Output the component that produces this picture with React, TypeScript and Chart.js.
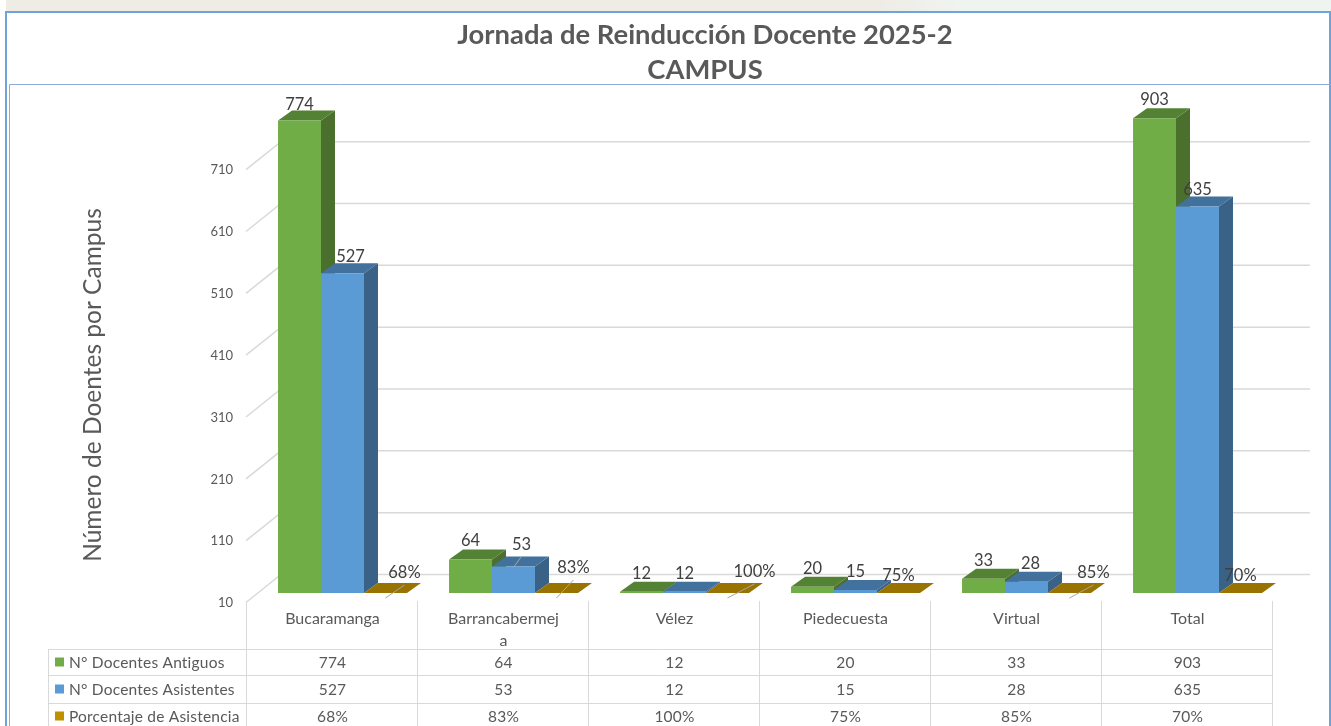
import React, { useEffect, useRef } from "react";
import { Chart, registerables } from "chart.js";

Chart.register(...registerables);

const chartTitle = ["Jornada de Reinducción Docente 2025-2", "CAMPUS"];
const yAxisTitle = "Número de Doentes por Campus";
const categories: (string | string[])[] = ["Bucaramanga", ["Barrancabermej", "a"], "Vélez", "Piedecuesta", "Virtual", "Total"];
const antiguos = [774, 64, 12, 20, 33, 903];
const asistentes = [527, 53, 12, 15, 28, 635];
const porcentaje = [0.68, 0.83, 1, 0.75, 0.85, 0.7];
const yTicks = [10, 110, 210, 310, 410, 510, 610, 710];
const seriesNames = ["N° Docentes Antiguos", "N° Docentes Asistentes", "Porcentaje de Asistencia"];

const FONT = "Lato, Carlito, 'Open Sans', sans-serif";
const TEXT = "#595959";
const LABEL = "#404040";
const LINE = "#d9d9d9";
const DEPTH_X = 14;
const DEPTH_Y = 10;
const COL_SHIFT = 10;

const faces = [
  { front: "#70AD47", side: "#4B6F2C", top: "#548235", swatch: "#70AD47" },
  { front: "#5B9BD5", side: "#3A6287", top: "#41719C", swatch: "#5B9BD5" },
  { front: "#BF9000", side: "#7F6000", top: "#997300", swatch: "#BF9000" },
];

// label nudges relative to the bar's top centre: [dx, gap above top]
const nudges: number[][][] = [
  [[0, 16], [0, 19], [0, 18], [0, 18], [0, 18], [0, 18]],
  [[8, 17], [8, 22], [0, 18], [0, 18], [4, 18], [0, 17]],
  [[19, 20], [17, 25], [27, 21], [0, 17], [24, 20], [0, 17]],
];

const pct = (v: number) => `${Math.round(v * 100)}%`;

const decorPlugin = {
  id: "decor",
  beforeDraw(chart: any) {
    const { ctx, width, height } = chart;
    ctx.save();
    ctx.fillStyle = "#ffffff";
    ctx.fillRect(6, 11, width - 6, height - 11);
    ctx.strokeStyle = "#6FA3DC";
    ctx.lineWidth = 2;
    ctx.beginPath();
    ctx.moveTo(6, height);
    ctx.lineTo(6, 12);
    ctx.lineTo(width - 1, 12);
    ctx.lineTo(width - 1, height);
    ctx.stroke();
    ctx.strokeStyle = "#8EA9DB";
    ctx.lineWidth = 1;
    ctx.beginPath();
    ctx.moveTo(9.5, height);
    ctx.lineTo(9.5, 84.5);
    ctx.lineTo(width - 1, 84.5);
    ctx.stroke();
    ctx.restore();
  },
  beforeDatasetsDraw(chart: any) {
    const { ctx, chartArea, scales } = chart;
    const y = scales.y;
    ctx.save();
    // back wall gridlines, walked from the axis ticks
    ctx.strokeStyle = LINE;
    ctx.lineWidth = 1.5;
    yTicks.forEach((t) => {
      const p = y.getPixelForValue(t);
      ctx.beginPath();
      ctx.moveTo(chartArea.left - 11, p + 9.5);
      ctx.lineTo(chartArea.left + 24, p - 18.5);
      ctx.lineTo(chartArea.right + 27, p - 18.5);
      ctx.stroke();
    });
    // side and top faces of every bar
    chart.data.datasets.forEach((_: any, di: number) => {
      const f = faces[di];
      chart.getDatasetMeta(di).data.forEach((bar: any) => {
        const l = bar.x - bar.width / 2;
        const r = bar.x + bar.width / 2;
        const top = Math.max(Math.min(bar.y, chartArea.bottom), chartArea.top);
        const bottom = chartArea.bottom;
        ctx.fillStyle = f.side;
        ctx.beginPath();
        ctx.moveTo(r, top);
        ctx.lineTo(r + DEPTH_X, top - DEPTH_Y);
        ctx.lineTo(r + DEPTH_X, bottom - DEPTH_Y);
        ctx.lineTo(r, bottom);
        ctx.closePath();
        ctx.fill();
        ctx.fillStyle = f.top;
        ctx.beginPath();
        ctx.moveTo(l, top);
        ctx.lineTo(l + DEPTH_X, top - DEPTH_Y);
        ctx.lineTo(r + DEPTH_X, top - DEPTH_Y);
        ctx.lineTo(r, top);
        ctx.closePath();
        ctx.fill();
      });
    });
    ctx.restore();
  },
  afterDraw(chart: any) {
    const { ctx, chartArea, scales, height } = chart;
    const x = scales.x;
    ctx.save();
    // data labels and their leader lines
    chart.data.datasets.forEach((ds: any, di: number) => {
      chart.getDatasetMeta(di).data.forEach((bar: any, i: number) => {
        const top = Math.max(Math.min(bar.y, chartArea.bottom), chartArea.top);
        const [dx, gap] = nudges[di][i];
        const lx = bar.x + dx;
        const ly = top - gap;
        if (dx >= 8 && gap >= 20) {
          ctx.strokeStyle = "#a6a6a6";
          ctx.lineWidth = 1;
          ctx.beginPath();
          ctx.moveTo(bar.x, top + (di === 2 ? 5 : 1));
          ctx.lineTo(lx, ly + 12);
          ctx.stroke();
        }
        ctx.fillStyle = LABEL;
        ctx.font = `16.5px ${FONT}`;
        ctx.textAlign = "center";
        ctx.textBaseline = "middle";
        ctx.fillText(di === 2 ? pct(ds.data[i]) : String(ds.data[i]), lx, ly);
      });
    });
    // axis title
    ctx.save();
    ctx.translate(93, 385);
    ctx.rotate(-Math.PI / 2);
    ctx.font = `24.5px ${FONT}`;
    ctx.fillStyle = TEXT;
    ctx.textAlign = "center";
    ctx.textBaseline = "middle";
    ctx.fillText(yAxisTitle, 0, 0);
    ctx.restore();
    // data table
    const colW = x.getPixelForTick(1) - x.getPixelForTick(0);
    const colX = (i: number) => x.getPixelForTick(i) - COL_SHIFT;
    const tableLeft = 48.5;
    const firstCol = colX(0) - colW / 2;
    const lastCol = colX(categories.length - 1) + colW / 2;
    const rowLines = [649, 675, 703];
    const rowMid = [662.5, 689.5, 716.5];
    ctx.strokeStyle = LINE;
    ctx.lineWidth = 1;
    rowLines.forEach((ry) => {
      ctx.beginPath();
      ctx.moveTo(tableLeft, ry + 0.5);
      ctx.lineTo(lastCol, ry + 0.5);
      ctx.stroke();
    });
    ctx.beginPath();
    ctx.moveTo(tableLeft, rowLines[0]);
    ctx.lineTo(tableLeft, height);
    ctx.stroke();
    for (let i = 0; i <= categories.length; i++) {
      const vx = Math.floor(firstCol + i * colW - 0.5) + 0.5;
      ctx.beginPath();
      ctx.moveTo(vx, 601);
      ctx.lineTo(vx, height);
      ctx.stroke();
    }
    const rows = [antiguos.map(String), asistentes.map(String), porcentaje.map(pct)];
    ctx.textBaseline = "middle";
    (ctx as any).letterSpacing = "0.2px";
    rows.forEach((row, r) => {
      ctx.fillStyle = faces[r].swatch;
      ctx.fillRect(55, rowMid[r] - 5, 9, 9);
      ctx.fillStyle = TEXT;
      ctx.font = `15.5px ${FONT}`;
      ctx.textAlign = "left";
      ctx.fillText(seriesNames[r], 69, rowMid[r]);
      ctx.textAlign = "center";
      row.forEach((txt, i) => ctx.fillText(txt, colX(i), rowMid[r]));
    });
    (ctx as any).letterSpacing = "0px";
    ctx.restore();
  },
};

export default function App() {
  const ref = useRef<HTMLCanvasElement>(null);
  useEffect(() => {
    document.body.style.margin = "0";
    const chart = new Chart(ref.current!, {
      type: "bar",
      data: {
        labels: categories as any,
        datasets: [
          { label: seriesNames[0], data: antiguos, backgroundColor: faces[0].front },
          { label: seriesNames[1], data: asistentes, backgroundColor: faces[1].front },
          { label: seriesNames[2], data: porcentaje, backgroundColor: faces[2].front },
        ],
      },
      options: {
        responsive: false,
        animation: false,
        layout: { padding: { left: 127, right: 48, top: 0, bottom: 0 } },
        datasets: { bar: { barPercentage: 1, categoryPercentage: 0.754 } },
        plugins: {
          legend: { display: false },
          tooltip: { enabled: false },
          title: {
            display: true,
            text: chartTitle,
            color: TEXT,
            font: { family: FONT, size: 27.4, weight: "bold", lineHeight: 1.28 },
            padding: { top: 18, bottom: 30 },
          },
        },
        scales: {
          x: {
            grid: { display: false, drawTicks: false },
            border: { display: false },
            afterFit: (s: any) => {
              s.height = 133;
            },
            ticks: {
              color: TEXT,
              font: { family: FONT, size: 16, lineHeight: 1.375 },
              padding: 15,
              labelOffset: -COL_SHIFT,
              maxRotation: 0,
              autoSkip: false,
            },
          },
          y: {
            min: 10,
            max: 778,
            grid: { display: false, drawTicks: false },
            border: { display: false },
            afterFit: (s: any) => {
              s.width = 130;
            },
            afterBuildTicks: (s: any) => {
              s.ticks = yTicks.map((value) => ({ value }));
            },
            ticks: {
              color: TEXT,
              font: { family: FONT, size: 13 },
              padding: 24,
              labelOffset: 10,
              autoSkip: false,
            },
          },
        },
      },
      plugins: [decorPlugin],
    } as any);
    return () => chart.destroy();
  }, []);
  return (
    <div
      style={{
        position: "fixed",
        inset: 0,
        overflow: "hidden",
        background: "linear-gradient(90deg,#ffffff 0,#ffffff 6px,#efece6 6px,#efece6 880px,#eef4f0 960px,#eef4f0 100%)",
      }}
    >
      <canvas ref={ref} width={1331} height={726} style={{ display: "block" }} />
    </div>
  );
}
